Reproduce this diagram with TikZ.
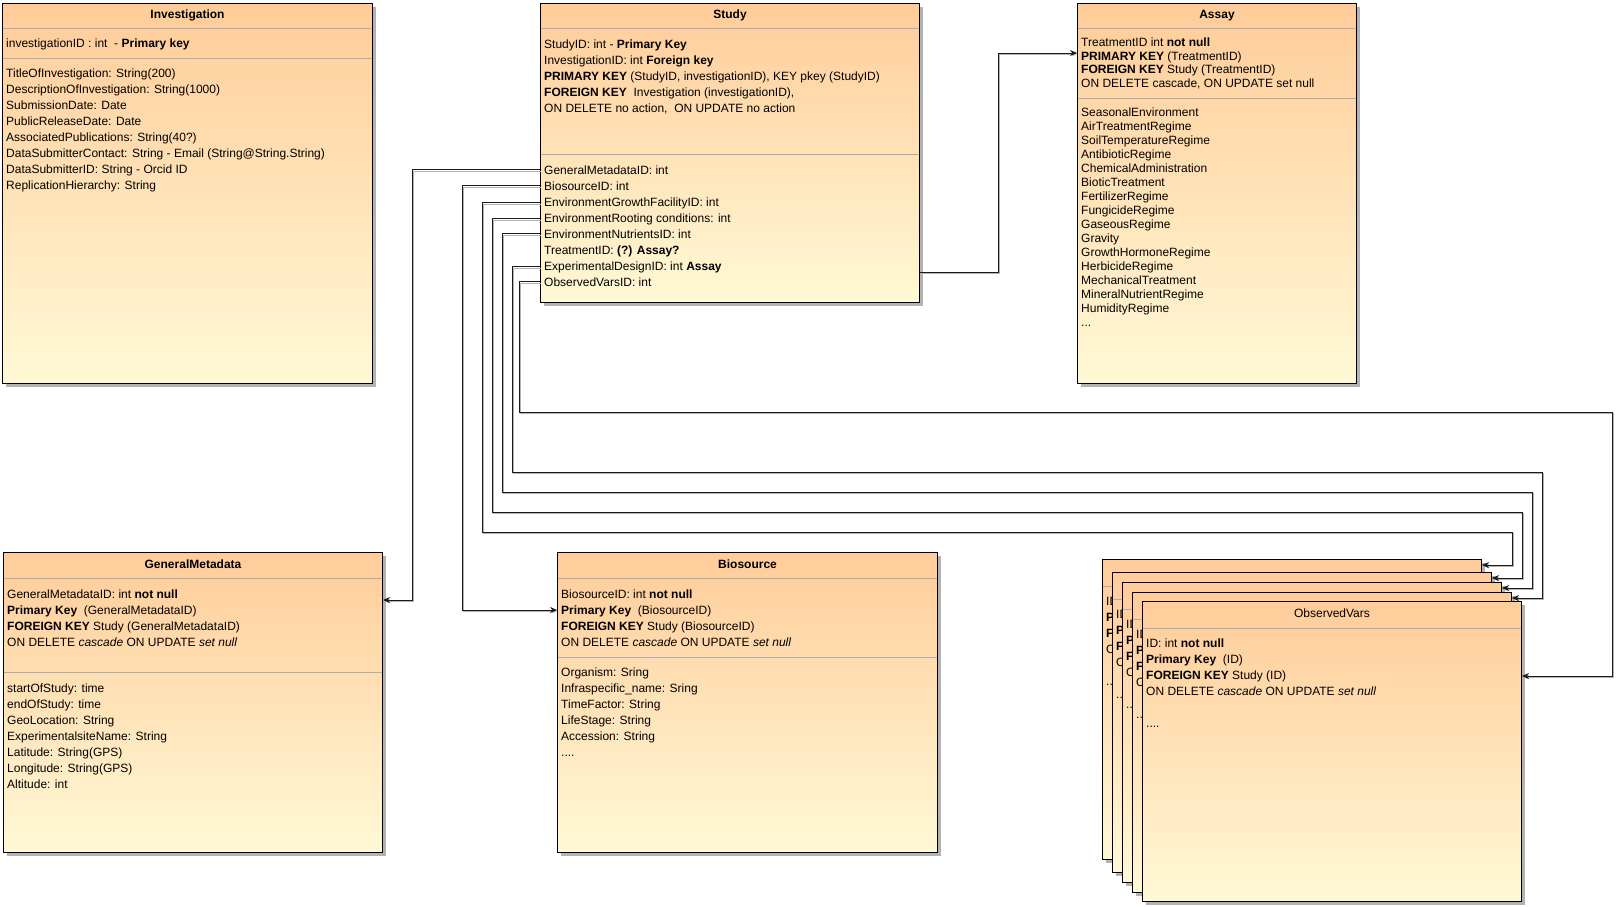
\documentclass[tikz,border=0pt]{standalone}
\usepackage{fontspec}
\setmainfont{Liberation Sans}
\usepackage{xcolor}
\definecolor{cTop}{HTML}{FFCC99}
\definecolor{cBot}{HTML}{FFF9D6}
\definecolor{cSep}{HTML}{A9AEB4}
\definecolor{cShadow}{HTML}{B3B3B3}
\definecolor{cLine}{HTML}{1A1A1A}
\usepackage{tikz}
\usetikzlibrary{arrows.meta,calc,shadows}
\newcommand{\tblfont}{\fontsize{12}{14}\selectfont}
\tikzset{
  tbl-box/.style={draw=black,line width=1pt,top color=cTop,bottom color=cBot,
    anchor=north west,inner sep=0pt,minimum width=379pt,minimum height=300pt,
    drop shadow={shadow xshift=3pt,shadow yshift=-3pt,fill=cShadow,opacity=1}},
  tbl-title/.style={anchor=base,inner sep=0pt,font=\tblfont\bfseries},
  tbl-row/.style={anchor=base west,inner sep=0pt,font=\tblfont},
  tbl-sep/.style={draw=cSep,line width=1pt},
  % fk links: dark line with a light grey shadow, as in the tool export
  arrow-fk/.style={-{Stealth[length=7pt,width=6pt]},line width=0.9pt,draw=cLine,
    preaction={draw=cShadow,transform canvas={xshift=1pt,yshift=-1pt}}},
}

\begin{document}
\begin{tikzpicture}[x=1pt,y=-1pt]
  \useasboundingbox (0,0) rectangle (1622,906);

  % Investigation
  \node[tbl-box,minimum width=370pt,minimum height=380pt] (inv) at (2,3) {};
  \node[tbl-title] (inv-t) at ($(inv.north)+(0,15.5)$) {Investigation};
  \draw[tbl-sep] ($(inv.north west)+(1,25)$) -- ($(inv.north east)+(-1,25)$);
  \draw[tbl-sep] ($(inv.north west)+(1,55)$) -- ($(inv.north east)+(-1,55)$);
  \node[tbl-row] (inv-k) at ($(inv.north west)+(4,44)$) {investigationID : int\ \ - \textbf{Primary key}};
  \foreach \t [count=\i from 0] in {TitleOfInvestigation: String(200),
      DescriptionOfInvestigation: String(1000), SubmissionDate: Date,
      PublicReleaseDate: Date, AssociatedPublications: String(40?),
      DataSubmitterContact: String - Email (String@String.String),
      DataSubmitterID: String - Orcid ID, ReplicationHierarchy: String}
    \node[tbl-row] (inv-r\i) at ($(inv.north west)+(4,74.5+16*\i)$) {\t};

  % Study
  \node[tbl-box,minimum width=379pt,minimum height=299pt] (study) at (540,3) {};
  \node[tbl-title] (study-t) at ($(study.north)+(0,15.5)$) {Study};
  \draw[tbl-sep] ($(study.north west)+(1,25)$) -- ($(study.north east)+(-1,25)$);
  \draw[tbl-sep] ($(study.north west)+(1,151)$) -- ($(study.north east)+(-1,151)$);
  \foreach \t [count=\i from 0] in {StudyID: int - \textbf{Primary Key},
      InvestigationID: int \textbf{Foreign key},
      {\textbf{PRIMARY KEY} (StudyID, investigationID), KEY pkey (StudyID)},
      {\textbf{FOREIGN KEY}\ \ Investigation (investigationID),},
      {ON DELETE no action,\ \ ON UPDATE no action}}
    \node[tbl-row] (study-k\i) at ($(study.north west)+(4,45+16*\i)$) {\t};
  \foreach \nm/\t [count=\i from 0] in {gm/GeneralMetadataID: int,
      bs/BiosourceID: int, eg/EnvironmentGrowthFacilityID: int,
      er/EnvironmentRooting conditions: int, en/EnvironmentNutrientsID: int,
      tr/TreatmentID: \textbf{(?) Assay?}, ed/ExperimentalDesignID: int \textbf{Assay},
      ov/ObservedVarsID: int}
    \node[tbl-row] (st-\nm) at ($(study.north west)+(4,171+16*\i)$) {\t};

  % Assay
  \node[tbl-box,minimum width=279pt,minimum height=380pt] (assay) at (1077,3) {};
  \node[tbl-title] (assay-t) at ($(assay.north)+(0,15.5)$) {Assay};
  \draw[tbl-sep] ($(assay.north west)+(1,25)$) -- ($(assay.north east)+(-1,25)$);
  \draw[tbl-sep] ($(assay.north west)+(1,95)$) -- ($(assay.north east)+(-1,95)$);
  \foreach \t [count=\i from 0] in {TreatmentID int \textbf{not null},
      \textbf{PRIMARY KEY} (TreatmentID), \textbf{FOREIGN KEY} Study (TreatmentID),
      {ON DELETE cascade, ON UPDATE set null}}
    \node[tbl-row] (assay-k\i) at ($(assay.north west)+(4,43.5+13.7*\i)$) {\t};
  \foreach \t [count=\i from 0] in {SeasonalEnvironment, AirTreatmentRegime,
      SoilTemperatureRegime, AntibioticRegime, ChemicalAdministration,
      BioticTreatment, FertilizerRegime, FungicideRegime, GaseousRegime, Gravity,
      GrowthHormoneRegime, HerbicideRegime, MechanicalTreatment,
      MineralNutrientRegime, HumidityRegime, .{}.{}.}
    \node[tbl-row] (assay-r\i) at ($(assay.north west)+(4,113.5+14*\i)$) {\t};

  % GeneralMetadata
  \node[tbl-box] (gmeta) at (3,552) {};
  \node[tbl-title] (gmeta-t) at ($(gmeta.north)+(0,16.5)$) {GeneralMetadata};
  \draw[tbl-sep] ($(gmeta.north west)+(1,26)$) -- ($(gmeta.north east)+(-1,26)$);
  \draw[tbl-sep] ($(gmeta.north west)+(1,120)$) -- ($(gmeta.north east)+(-1,120)$);
  \foreach \t [count=\i from 0] in {GeneralMetadataID: int \textbf{not null},
      \textbf{Primary Key}\ \ (GeneralMetadataID),
      \textbf{FOREIGN KEY} Study (GeneralMetadataID),
      ON DELETE \textit{cascade} ON UPDATE \textit{set null}}
    \node[tbl-row] (gmeta-k\i) at ($(gmeta.north west)+(4,46+16*\i)$) {\t};
  \foreach \t [count=\i from 0] in {startOfStudy: time, endOfStudy: time,
      GeoLocation: String, ExperimentalsiteName: String, Latitude: String(GPS),
      Longitude: String(GPS), Altitude: int}
    \node[tbl-row] (gmeta-r\i) at ($(gmeta.north west)+(4,140.5+16*\i)$) {\t};

  % Biosource
  \node[tbl-box,minimum width=380pt] (bsrc) at (557,552) {};
  \node[tbl-title] (bsrc-t) at ($(bsrc.north)+(0,16.5)$) {Biosource};
  \draw[tbl-sep] ($(bsrc.north west)+(1,26)$) -- ($(bsrc.north east)+(-1,26)$);
  \draw[tbl-sep] ($(bsrc.north west)+(1,105)$) -- ($(bsrc.north east)+(-1,105)$);
  \foreach \t [count=\i from 0] in {BiosourceID: int \textbf{not null},
      \textbf{Primary Key}\ \ (BiosourceID), \textbf{FOREIGN KEY} Study (BiosourceID),
      ON DELETE \textit{cascade} ON UPDATE \textit{set null}}
    \node[tbl-row] (bsrc-k\i) at ($(bsrc.north west)+(4,46+16*\i)$) {\t};
  \foreach \t [count=\i from 0] in {Organism: Sring, Infraspecific\_name: Sring,
      TimeFactor: String, LifeStage: String, Accession: String, .{}.{}.{}.}
    \node[tbl-row] (bsrc-r\i) at ($(bsrc.north west)+(4,124+16*\i)$) {\t};

  % ObservedVars stack (front one is ov5)
  \foreach \k/\ty in {1/559,2/572,3/582,4/592,5/601} {
    \node[tbl-box] (ov\k) at ({1102+10*(\k-1)},\ty) {};
    \draw[tbl-sep] ($(ov\k.north west)+(1,27)$) -- ($(ov\k.north east)+(-1,27)$);
    \foreach \t/\dy [count=\i from 0] in {ID: int \textbf{not null}/46,
        \textbf{Primary Key}\ \ (ID)/62, \textbf{FOREIGN KEY} Study (ID)/78,
        ON DELETE \textit{cascade} ON UPDATE \textit{set null}/94, .{}.{}.{}./126}
      \node[tbl-row] (ov\k-\i) at ($(ov\k.north west)+(4,\dy)$) {\t};
  }
  \node[tbl-title,font=\tblfont] (ov-t) at ($(ov5.north)+(0,16.5)$) {ObservedVars};

  % links
  \draw[arrow-fk] ($(study.north east)+(0,269)$) -- ++(78,0) |- ($(assay.north west)+(0,50)$);
  \draw[arrow-fk] (study.west |- st-gm) -- ++(-128,0) |- ($(gmeta.north east)+(0,48)$);
  \draw[arrow-fk] (study.west |- st-bs) -- ++(-78,0) |- ($(bsrc.north west)+(0,58)$);
  \foreach \r/\b/\lx/\ly/\rx in {eg/ov1/482/532/1512, er/ov2/492/512/1522,
      en/ov3/502/492/1532, ed/ov4/512/472/1542}
    \draw[arrow-fk] (study.west |- st-\r) -| (\lx,\ly) -- (\rx,\ly) |- ($(\b.north east)+(0,6)$);
  \draw[arrow-fk] (study.west |- st-ov) -| (519,412) -- (1612,412) |- ($(ov5.north east)+(0,75)$);
\end{tikzpicture}
\end{document}
